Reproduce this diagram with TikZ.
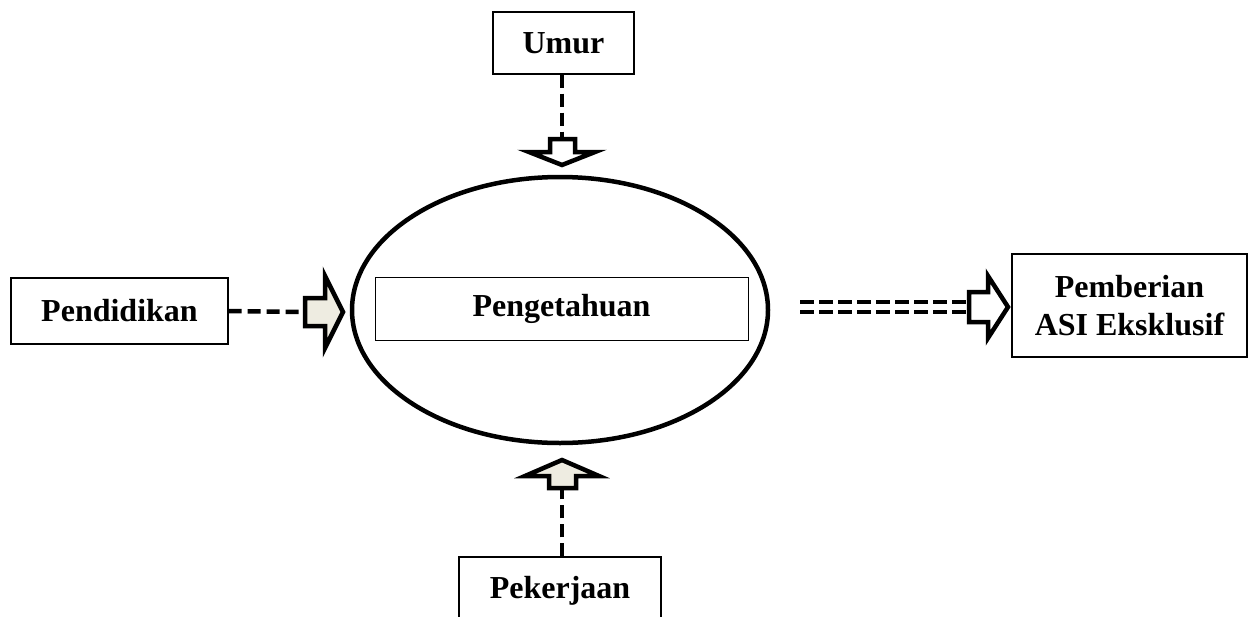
\documentclass[tikz,border=0pt]{standalone}
\usepackage{fontspec}
\setmainfont{Liberation Serif}
\usetikzlibrary{shapes.geometric}
\definecolor{beige}{HTML}{EEECE1}
\tikzset{
  box/.style={draw, line width=1.3pt, font=\fontsize{32}{38}\selectfont\bfseries, align=center, inner sep=0pt},
  dashline/.style={line width=4.5pt, dash pattern=on 13pt off 6pt},
  dbl/.style={line width=4.5pt, dash pattern=on 14pt off 5pt},
  blockarrow/.style={line width=4.5pt, line join=miter, miter limit=20}
}
\begin{document}
\begin{tikzpicture}[x=1pt,y=-1pt]
\useasboundingbox (0,0) rectangle (1253,616);
\clip (0,0) rectangle (1253,616);
% nodes
\node[draw, ellipse, line width=4.5pt, minimum width=416pt, minimum height=266pt] (ell) at (560,310) {};
\node[box, line width=1pt, minimum width=373pt, minimum height=63pt] (peng) at (561.5,308.5) {Pengetahuan};
\node[box, minimum width=141pt, minimum height=62pt] (umur) at (563.5,43) {Umur};
\node[box, minimum width=217pt, minimum height=66pt] (pend) at (119.5,311) {Pendidikan};
\node[box, minimum width=235pt, minimum height=103pt] (asi) at (1129.5,305.5) {Pemberian\\ASI Eksklusif};
\node[box, minimum width=202pt, minimum height=68pt] (pek) at (560,591) {Pekerjaan};
% arrow tails
\coordinate (ua) at (562,139);
\coordinate (pa) at (305,312);
\coordinate (ka) at (562,488);
\coordinate (ra) at (969,307);
\coordinate (rs) at (800,307);
% Umur
\draw[dashline] (umur.south -| ua) -- (ua);
\draw[blockarrow, fill=white] (550,139) -- (575,139) -- (575,152) -- (595,152) -- (562,165) -- (529,152) -- (550,152) -- cycle;
% Pendidikan
\draw[dashline] (pend.east) -- (pa);
\draw[blockarrow, fill=beige] (305,298) -- (325,298) -- (325,276) -- (343,312) -- (325,348) -- (325,326) -- (305,326) -- cycle;
% Pekerjaan
\draw[dashline] (pek.north -| ka) -- (ka);
\draw[blockarrow, fill=beige] (549,488) -- (549,476) -- (525,476) -- (562,460) -- (599,476) -- (576,476) -- (576,488) -- cycle;
% Pemberian
\draw[dbl] ([yshift=-5pt]rs) -- ([yshift=-5pt]ra);
\draw[dbl] ([yshift=5pt]rs) -- ([yshift=5pt]ra);
\draw[blockarrow, fill=white] (969,292) -- (988,292) -- (988,276) -- (1008,307) -- (988,338) -- (988,322) -- (969,322) -- cycle;
\end{tikzpicture}
\end{document}
